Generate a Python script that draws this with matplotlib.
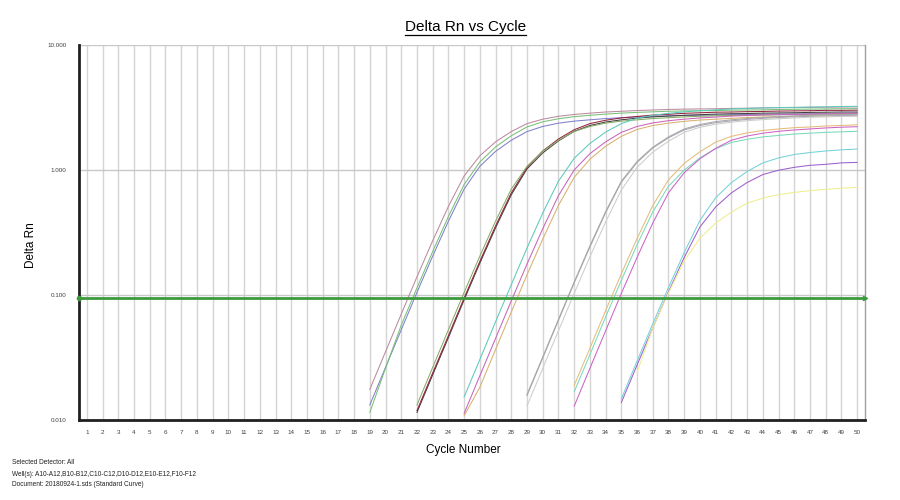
import matplotlib
matplotlib.use("Agg")
import matplotlib.pyplot as plt
from matplotlib.lines import Line2D

plt.rcParams["font.family"] = ["Liberation Sans", "DejaVu Sans"]

# Delta Rn per cycle (log view, values start where the plot starts)
wells = {
    # group 1 (start at cycle 19)
    "A10": (19, "#bc8aa0", [0.0176, 0.0352, 0.0704, 0.140, 0.272, 0.512, 0.896, 1.30, 1.68, 2.03, 2.35, 2.55, 2.69, 2.78, 2.85, 2.91,
                            2.95, 2.99, 3.02, 3.05, 3.07, 3.08, 3.09, 3.11, 3.12, 3.14, 3.15, 3.16, 3.17, 3.18, 3.19, 3.20]),
    "A11": (19, "#8080cc", [0.0132, 0.0264, 0.0527, 0.105, 0.205, 0.390, 0.704, 1.07, 1.41, 1.73, 2.03, 2.23, 2.37, 2.46, 2.52, 2.58,
                            2.62, 2.66, 2.69, 2.71, 2.73, 2.74, 2.75, 2.77, 2.78, 2.79, 2.80, 2.81, 2.82, 2.83, 2.84, 2.85]),
    "A12": (19, "#78c078", [0.0115, 0.026, 0.0574, 0.114, 0.223, 0.425, 0.766, 1.16, 1.53, 1.88, 2.21, 2.43, 2.57, 2.67, 2.74, 2.80,
                            2.85, 2.89, 2.92, 2.95, 2.97, 2.98, 2.99, 3.01, 3.02, 3.03, 3.05, 3.06, 3.07, 3.08, 3.09, 3.10]),
    # group 2 (start at cycle 22)
    "B10": (22, "#404040", [0.0115, 0.0230, 0.0457, 0.0915, 0.180, 0.345, 0.634, 1.02, 1.37, 1.71, 2.04, 2.27, 2.42, 2.52, 2.60,
                            2.66, 2.70, 2.74, 2.77, 2.80, 2.82, 2.83, 2.85, 2.86, 2.87, 2.89, 2.90, 2.91, 2.91]),
    "B11": (22, "#94243f", [0.0119, 0.0238, 0.0473, 0.0946, 0.186, 0.357, 0.656, 1.05, 1.42, 1.77, 2.10, 2.35, 2.50, 2.61, 2.68,
                            2.75, 2.79, 2.84, 2.87, 2.90, 2.91, 2.93, 2.94, 2.96, 2.97, 2.98, 3.00, 3.00, 3.01]),
    "B12": (22, "#88ac64", [0.0132, 0.0264, 0.0527, 0.105, 0.205, 0.390, 0.704, 1.07, 1.41, 1.73, 2.03, 2.23, 2.37, 2.46, 2.52,
                            2.58, 2.62, 2.66, 2.69, 2.71, 2.73, 2.74, 2.75, 2.77, 2.78, 2.79, 2.80, 2.81, 2.82]),
    # group 3 (start at cycle 25)
    "C10": (25, "#5ccabc", [0.0153, 0.0305, 0.0611, 0.121, 0.238, 0.452, 0.815, 1.24, 1.63, 2.01, 2.35, 2.59, 2.74, 2.84, 2.92,
                            2.98, 3.03, 3.08, 3.11, 3.14, 3.16, 3.17, 3.19, 3.20, 3.22, 3.23]),
    "C11": (25, "#c864bc", [0.0113, 0.0226, 0.0450, 0.0899, 0.177, 0.339, 0.624, 1.00, 1.35, 1.68, 2.00, 2.23, 2.38, 2.48, 2.55,
                            2.61, 2.65, 2.70, 2.73, 2.76, 2.77, 2.78, 2.80, 2.81, 2.82, 2.84]),
    "C12": (25, "#d8b070", [0.0108, 0.0183, 0.0367, 0.0731, 0.145, 0.280, 0.521, 0.874, 1.22, 1.55, 1.86, 2.11, 2.27, 2.37, 2.45,
                            2.51, 2.55, 2.59, 2.63, 2.65, 2.67, 2.69, 2.70, 2.71, 2.72, 2.74]),
    # group 4 (start at cycle 29)
    "D10": (29, "#b0a4b8", [0.0157, 0.0314, 0.0627, 0.125, 0.242, 0.456, 0.798, 1.15, 1.50, 1.81, 2.09, 2.27, 2.39, 2.47, 2.54,
                            2.59, 2.63, 2.66, 2.69, 2.71, 2.73, 2.74]),
    "D11": (29, "#c8d0c8", [0.0130, 0.0259, 0.0518, 0.103, 0.202, 0.384, 0.692, 1.05, 1.39, 1.70, 2.00, 2.20, 2.32, 2.41, 2.48,
                            2.53, 2.57, 2.61, 2.64, 2.66, 2.68, 2.69]),
    "D12": (29, "#a8a8a8", [0.0160, 0.0319, 0.0638, 0.127, 0.247, 0.464, 0.812, 1.17, 1.52, 1.84, 2.13, 2.31, 2.44, 2.52, 2.58,
                            2.63, 2.67, 2.71, 2.74, 2.76, 2.78, 2.79]),
    # group 5 (start at cycle 32)
    "E10": (32, "#e6bc78", [0.0189, 0.0375, 0.0750, 0.148, 0.283, 0.520, 0.835, 1.13, 1.40, 1.67, 1.86, 1.98, 2.07, 2.13, 2.18,
                            2.21, 2.25, 2.27, 2.30]),
    "E11": (32, "#78dabc", [0.0168, 0.0333, 0.0667, 0.131, 0.252, 0.462, 0.742, 1.00, 1.25, 1.48, 1.66, 1.76, 1.84, 1.89, 1.94,
                            1.97, 2.00, 2.02, 2.04]),
    "E12": (32, "#cc64c8", [0.0129, 0.0259, 0.0517, 0.103, 0.200, 0.376, 0.658, 0.952, 1.23, 1.49, 1.73, 1.87, 1.97, 2.04, 2.09,
                            2.13, 2.17, 2.20, 2.22]),
    # group 6 (start at cycle 35 / 36)
    "F10": (35, "#74d2da", [0.0148, 0.0296, 0.0589, 0.115, 0.219, 0.395, 0.600, 0.792, 0.973, 1.14, 1.25, 1.33, 1.38, 1.42,
                            1.45, 1.47]),
    "F11": (35, "#9c60cc", [0.0138, 0.0275, 0.0546, 0.106, 0.200, 0.350, 0.506, 0.656, 0.794, 0.919, 0.996, 1.05, 1.09, 1.11,
                            1.14, 1.15]),
    "F12": (36, "#eeee90", [0.024, 0.0547, 0.104, 0.188, 0.285, 0.376, 0.462, 0.542, 0.596, 0.635, 0.662, 0.684, 0.700, 0.714,
                            0.727]),
}

threshold = 0.095
cycles = list(range(1, 51))
y_ticks = [0.01, 0.1, 1.0, 10.0]
y_labels = ["0.010", "0.100", "1.000", "10.000"]

fig = plt.figure(figsize=(9, 5), dpi=100)
ax = fig.add_axes([0.0878, 0.16, 0.8733, 0.75])

for c in cycles:
    ax.axvline(c, color="#d4d4d4", lw=1.0, zorder=0)
for yv in y_ticks:
    ax.axhline(yv, color="#c8c8c8", lw=1.0, zorder=0)

for name, (start, color, values) in wells.items():
    xs = list(range(start, start + len(values)))
    ax.plot(xs, values, color=color, lw=0.75, zorder=2)

ax.axhline(threshold, color="#3c9a3c", lw=2.0, zorder=3)
ax.plot([0.5], [threshold], marker="o", ms=3, color="#3c9a3c", clip_on=False, zorder=4)
ax.plot([50.5], [threshold], marker=">", ms=3, color="#3c9a3c", clip_on=False, zorder=4)

ax.set_yscale("log")
ax.set_ylim(0.01, 10)
ax.set_xlim(0.5, 50.5)
ax.set_yticks(y_ticks)
ax.set_yticklabels(y_labels)
ax.minorticks_off()
ax.set_xticks(cycles)
ax.set_xticklabels([str(c) for c in cycles])
ax.tick_params(axis="both", length=0, labelsize=4.5, labelcolor="#404040")
ax.tick_params(axis="x", pad=7)
ax.tick_params(axis="y", pad=9)

ax.spines["left"].set_linewidth(2)
ax.spines["bottom"].set_linewidth(2)
ax.spines["left"].set_color("#202020")
ax.spines["bottom"].set_color("#202020")
ax.spines["top"].set_visible(False)
ax.spines["right"].set_color("#a0a0a0")
ax.spines["right"].set_linewidth(1)

fig.text(0.515, 0.099, "Cycle Number", ha="center", va="center", fontsize=8.5)
fig.text(0.034, 0.51, "Delta Rn", ha="center", va="center", rotation=90, fontsize=8.5)

title = fig.text(0.517, 0.946, "Delta Rn vs Cycle", ha="center", va="center", fontsize=11)
fig.canvas.draw()
bb = title.get_window_extent().transformed(fig.transFigure.inverted())
fig.add_artist(Line2D([bb.x0, bb.x1], [bb.y0 - 0.002, bb.y0 - 0.002], color="black", lw=0.9,
                      transform=fig.transFigure))

footer = ["Selected Detector: All",
          "Well(s): A10-A12,B10-B12,C10-C12,D10-D12,E10-E12,F10-F12",
          "Document: 20180924-1.sds (Standard Curve)"]
for i, line in enumerate(footer):
    fig.text(0.0135, 0.074 - i * 0.022, line, ha="left", va="center", fontsize=4.7, color="#202020")

fig.savefig("out.png", dpi=100)
